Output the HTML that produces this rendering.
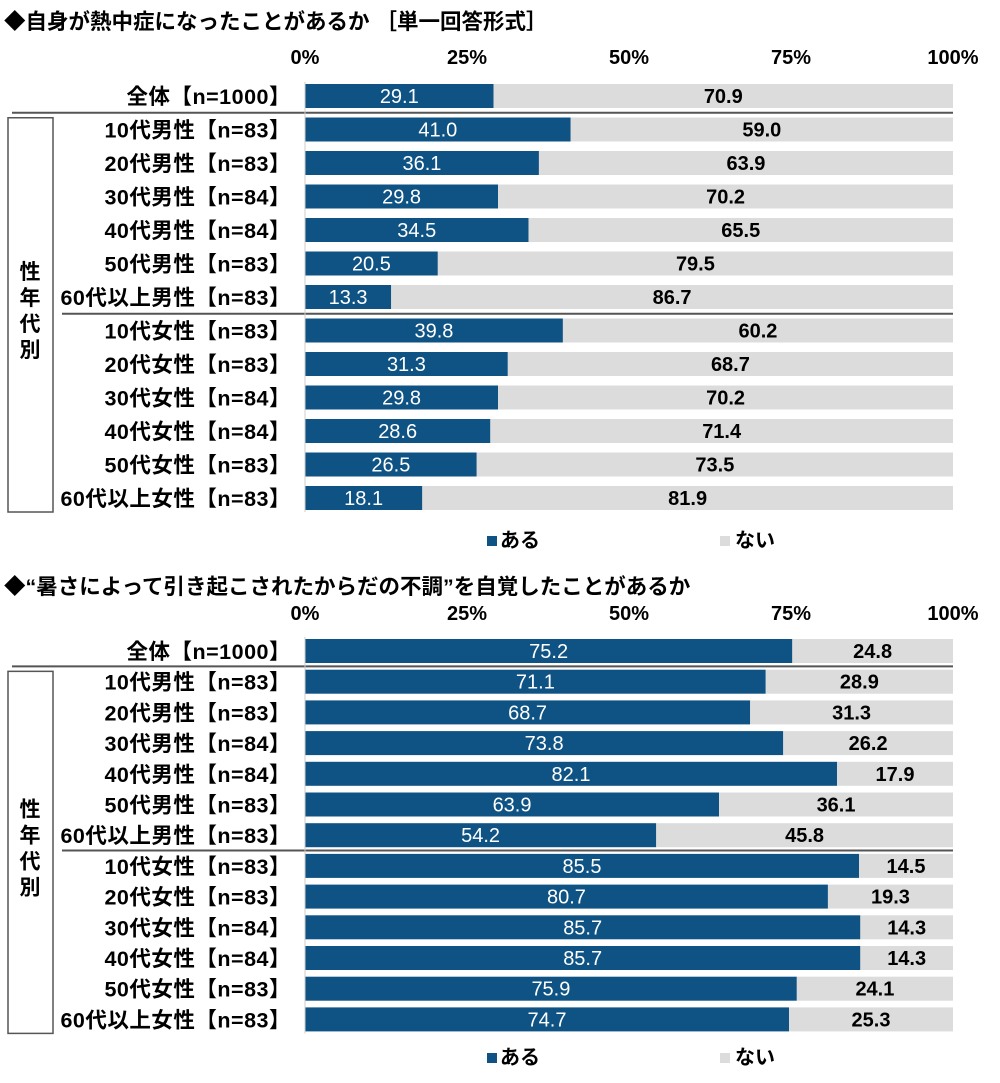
<!DOCTYPE html>
<html><head><meta charset="utf-8">
<style>
body{margin:0;background:#fff;width:1000px;height:1078px;overflow:hidden;font-family:"Liberation Sans","Noto Sans CJK JP",sans-serif;}
svg text{font-family:"Liberation Sans","Noto Sans CJK JP",sans-serif;}
</style></head>
<body>
<svg id="s" width="1000" height="1078" xmlns="http://www.w3.org/2000/svg">
<text x="4" y="29" font-size="21.5" font-weight="bold">◆自身が熱中症になったことがあるか ［単一回答形式］</text>
<text x="4" y="594" font-size="21.5" font-weight="bold">◆“暑さによって引き起こされたからだの不調”を自覚したことがあるか</text>
</svg>
<script>
const categories=["全体【n=1000】","10代男性【n=83】","20代男性【n=83】","30代男性【n=84】","40代男性【n=84】","50代男性【n=83】","60代以上男性【n=83】","10代女性【n=83】","20代女性【n=83】","30代女性【n=84】","40代女性【n=84】","50代女性【n=83】","60代以上女性【n=83】"];
const tickLabels=["0%","25%","50%","75%","100%"];
const tickValues=[0,25,50,75,100];
const chart1Aru=[29.1,41.0,36.1,29.8,34.5,20.5,13.3,39.8,31.3,29.8,28.6,26.5,18.1];
const chart1Nai=[70.9,59.0,63.9,70.2,65.5,79.5,86.7,60.2,68.7,70.2,71.4,73.5,81.9];
const chart2Aru=[75.2,71.1,68.7,73.8,82.1,63.9,54.2,85.5,80.7,85.7,85.7,75.9,74.7];
const chart2Nai=[24.8,28.9,31.3,26.2,17.9,36.1,45.8,14.5,19.3,14.3,14.3,24.1,25.3];

const svg=document.getElementById('s');
const NS='http://www.w3.org/2000/svg';
function mk(t,a,txt){const e=document.createElementNS(NS,t);for(const k in a)e.setAttribute(k,a[k]);if(txt!=null)e.textContent=txt;svg.appendChild(e);return e;}
const X0=305,X1=953;
const xs=v=>X0+(X1-X0)*v/100;

function draw(p,aru,nai){
  const ys=i=>p.top+i*p.step;
  tickValues.forEach((v,i)=>{
    const t=mk('text',{x:xs(v),y:p.tickY,'font-size':20,'font-weight':'bold','text-anchor':'middle'},tickLabels[i]);
    
    
  });
  categories.forEach((c,i)=>{
    const y=ys(i);
    const cy=y+p.bh/2;
    const l=mk('text',{x:291,y:cy+8,'font-size':21.5,'font-weight':'bold','text-anchor':'end','letter-spacing':'0.5'},c);
    
    
    const a=mk('rect',{x:xs(0),y:y,width:xs(aru[i])-xs(0),height:p.bh,fill:'#0f5384'});
    
    
    const n=mk('rect',{x:xs(aru[i]),y:y,width:xs(aru[i]+nai[i])-xs(aru[i]),height:p.bh,fill:'#dcdcdc'});
    
    
    const at=mk('text',{x:(xs(0)+xs(aru[i]))/2,y:cy+7,'font-size':20,fill:'#fff','text-anchor':'middle'},aru[i].toFixed(1));
    
    
    const nt=mk('text',{x:(xs(aru[i])+xs(aru[i]+nai[i]))/2,y:cy+7,'font-size':20,'font-weight':'bold',fill:'#000','text-anchor':'middle'},nai[i].toFixed(1));
    
    
  });
  const s1=(ys(0)+p.bh+ys(1))/2, s2=(ys(6)+p.bh+ys(7))/2;
  const l1=mk('line',{x1:12,x2:X1,y1:s1,y2:s1,stroke:'#555','stroke-width':2});
  
  
  const l2=mk('line',{x1:62,x2:X1,y1:s2,y2:s2,stroke:'#555','stroke-width':2});
  
  
  const ax=mk('line',{x1:X0,x2:X0,y1:ys(0)-2,y2:ys(12)+p.bh+2,stroke:'#ccc','stroke-width':1});
  
  
  const bt=s1+5, bb=ys(12)+p.bh+2;
  const b=mk('rect',{x:8,y:bt,width:45,height:bb-bt,fill:'none',stroke:'#555','stroke-width':1.5});
  
  
  const mid=(bt+bb)/2;
  ['性','年','代','別'].forEach((ch,k)=>{
    const t=mk('text',{x:30,y:mid-36+k*26,'font-size':21,'font-weight':'bold','text-anchor':'middle'},ch);
    
    
  });
  const r1=mk('rect',{x:487,y:p.legY-11,width:10,height:10,fill:'#0f5384'});
  
  
  const t1=mk('text',{x:500,y:p.legY,'font-size':20,'font-weight':'bold'},'ある');
  
  
  const r2=mk('rect',{x:720,y:p.legY-11,width:10,height:10,fill:'#dcdcdc'});
  
  
  const t2=mk('text',{x:735,y:p.legY,'font-size':20,'font-weight':'bold'},'ない');
  
  
}
draw({top:84,step:33.5,bh:24,tickY:64,legY:547},chart1Aru,chart1Nai);
draw({top:639,step:30.7,bh:24,tickY:620,legY:1064},chart2Aru,chart2Nai);
</script>
</body></html>
